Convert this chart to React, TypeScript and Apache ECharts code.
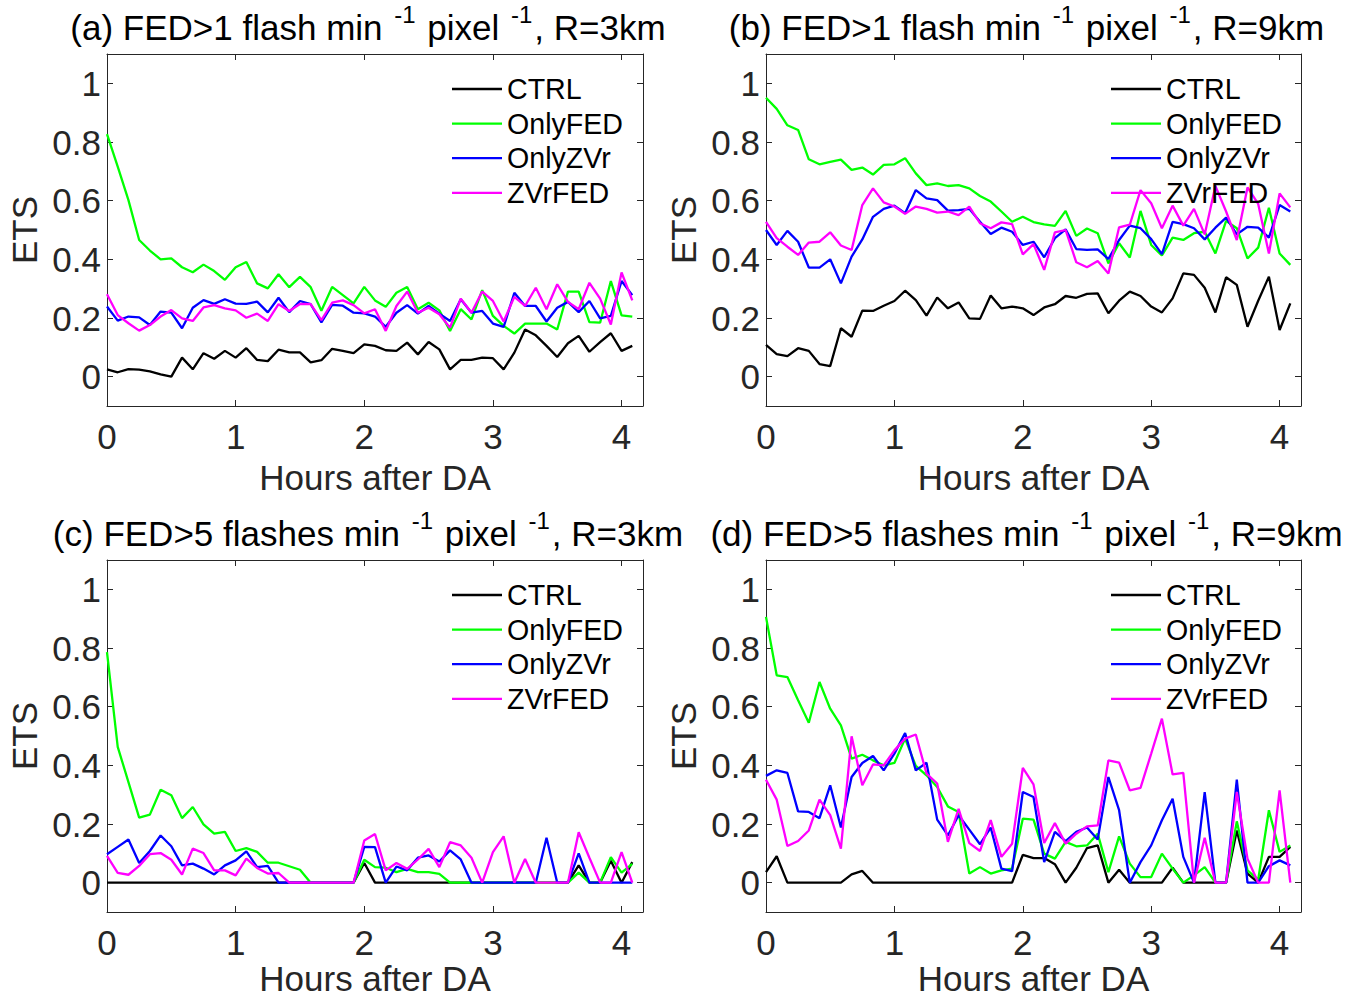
import React, { useEffect, useRef } from 'react';
import * as echarts from 'echarts';

const FONT = "'Liberation Sans', Arial, Helvetica, sans-serif";
const AXIS_COLOR = '#262626';

const MINUTES = [0, 5, 10, 15, 20, 25, 30, 35, 40, 45, 50, 55, 60, 65, 70, 75, 80, 85, 90, 95,
  100, 105, 110, 115, 120, 125, 130, 135, 140, 145, 150, 155, 160, 165, 170, 175, 180, 185, 190, 195,
  200, 205, 210, 215, 220, 225, 230, 235, 240, 245];

const SERIES_NAMES = ['CTRL', 'OnlyFED', 'OnlyZVr', 'ZVrFED'];
const SERIES_COLORS = ['#000000', '#00ff00', '#0000ff', '#ff00ff'];
const X_TICKS = [0, 1, 2, 3, 4];
const Y_TICKS = [0, 0.2, 0.4, 0.6, 0.8, 1];
const X_MAX_MIN = 250;

// Panel (a) FED>1, R=3km
const A_CTRL = [0.025, 0.015, 0.026, 0.024, 0.018, 0.008, 0.0, 0.065, 0.025, 0.08, 0.061, 0.088, 0.065, 0.097, 0.057, 0.053, 0.092, 0.083, 0.083, 0.049, 0.056, 0.095, 0.088, 0.08, 0.11, 0.105, 0.09, 0.088, 0.116, 0.076, 0.118, 0.093, 0.025, 0.057, 0.057, 0.065, 0.063, 0.025, 0.082, 0.161, 0.141, 0.105, 0.067, 0.114, 0.139, 0.085, 0.118, 0.148, 0.088, 0.105];
const A_FED = [0.827, 0.716, 0.602, 0.466, 0.43, 0.40, 0.403, 0.373, 0.356, 0.382, 0.36, 0.33, 0.373, 0.391, 0.318, 0.301, 0.349, 0.305, 0.34, 0.305, 0.225, 0.306, 0.278, 0.25, 0.306, 0.26, 0.238, 0.286, 0.306, 0.23, 0.252, 0.226, 0.156, 0.23, 0.195, 0.295, 0.207, 0.173, 0.147, 0.181, 0.181, 0.181, 0.161, 0.29, 0.29, 0.186, 0.184, 0.326, 0.209, 0.205];
const A_ZVR = [0.239, 0.191, 0.205, 0.202, 0.176, 0.222, 0.218, 0.165, 0.235, 0.261, 0.248, 0.264, 0.249, 0.248, 0.256, 0.219, 0.269, 0.22, 0.258, 0.247, 0.185, 0.245, 0.242, 0.218, 0.216, 0.205, 0.17, 0.218, 0.244, 0.215, 0.241, 0.215, 0.19, 0.264, 0.218, 0.224, 0.181, 0.17, 0.286, 0.241, 0.241, 0.188, 0.235, 0.255, 0.22, 0.258, 0.199, 0.207, 0.326, 0.278];
const A_ZVRFED = [0.281, 0.21, 0.182, 0.157, 0.176, 0.205, 0.227, 0.199, 0.19, 0.236, 0.244, 0.233, 0.226, 0.201, 0.215, 0.19, 0.247, 0.224, 0.248, 0.247, 0.193, 0.252, 0.26, 0.244, 0.216, 0.23, 0.156, 0.241, 0.29, 0.218, 0.235, 0.213, 0.167, 0.266, 0.218, 0.29, 0.258, 0.188, 0.272, 0.241, 0.303, 0.23, 0.315, 0.255, 0.23, 0.32, 0.266, 0.178, 0.355, 0.26];

// Panel (b) FED>1, R=9km
const B_CTRL = [0.108, 0.077, 0.07, 0.097, 0.088, 0.043, 0.036, 0.165, 0.136, 0.225, 0.224, 0.242, 0.258, 0.293, 0.261, 0.208, 0.27, 0.233, 0.253, 0.199, 0.197, 0.277, 0.233, 0.239, 0.233, 0.21, 0.236, 0.247, 0.275, 0.269, 0.282, 0.284, 0.216, 0.259, 0.29, 0.275, 0.239, 0.219, 0.267, 0.352, 0.347, 0.303, 0.219, 0.339, 0.313, 0.17, 0.259, 0.341, 0.159, 0.25];
const B_FED = [0.951, 0.913, 0.857, 0.841, 0.741, 0.724, 0.732, 0.74, 0.705, 0.713, 0.689, 0.722, 0.724, 0.745, 0.693, 0.653, 0.659, 0.65, 0.653, 0.642, 0.616, 0.597, 0.563, 0.528, 0.545, 0.527, 0.519, 0.514, 0.565, 0.48, 0.505, 0.489, 0.386, 0.455, 0.406, 0.565, 0.449, 0.413, 0.474, 0.466, 0.489, 0.494, 0.42, 0.531, 0.506, 0.403, 0.44, 0.576, 0.42, 0.381];
const B_ZVR = [0.5, 0.449, 0.497, 0.46, 0.372, 0.372, 0.4, 0.318, 0.409, 0.468, 0.545, 0.572, 0.583, 0.557, 0.636, 0.608, 0.602, 0.566, 0.568, 0.572, 0.528, 0.486, 0.508, 0.494, 0.449, 0.46, 0.407, 0.472, 0.502, 0.435, 0.432, 0.434, 0.401, 0.466, 0.515, 0.506, 0.469, 0.418, 0.528, 0.52, 0.506, 0.468, 0.508, 0.542, 0.485, 0.511, 0.508, 0.474, 0.585, 0.563];
const B_ZVRFED = [0.528, 0.472, 0.443, 0.415, 0.457, 0.46, 0.492, 0.447, 0.432, 0.585, 0.642, 0.594, 0.58, 0.555, 0.58, 0.572, 0.559, 0.563, 0.551, 0.58, 0.523, 0.506, 0.526, 0.52, 0.417, 0.452, 0.364, 0.492, 0.5, 0.39, 0.373, 0.394, 0.352, 0.509, 0.518, 0.636, 0.591, 0.506, 0.583, 0.515, 0.572, 0.485, 0.65, 0.563, 0.466, 0.645, 0.589, 0.42, 0.625, 0.577];

// Panel (c) FED>5, R=3km
const C_CTRL = [0, 0, 0, 0, 0, 0, 0, 0, 0, 0, 0, 0, 0, 0, 0, 0, 0, 0, 0, 0, 0, 0, 0, 0, 0.067, 0, 0, 0, 0, 0, 0, 0, 0, 0, 0, 0, 0, 0, 0, 0, 0, 0, 0, 0, 0.059, 0, 0, 0.075, 0, 0.07];
const C_FED = [0.786, 0.463, 0.343, 0.222, 0.232, 0.317, 0.298, 0.22, 0.258, 0.199, 0.167, 0.173, 0.108, 0.118, 0.105, 0.068, 0.068, 0.056, 0.044, 0, 0, 0, 0, 0, 0.078, 0.053, 0.051, 0.036, 0.047, 0.036, 0.036, 0.03, 0, 0, 0, 0, 0, 0, 0, 0, 0, 0, 0, 0, 0.034, 0, 0, 0.087, 0.034, 0.064];
const C_ZVR = [0.097, 0.122, 0.147, 0.067, 0.108, 0.161, 0.124, 0.059, 0.065, 0.048, 0.028, 0.059, 0.076, 0.107, 0.053, 0.057, 0, 0, 0, 0, 0, 0, 0, 0, 0.122, 0.121, 0, 0.055, 0.042, 0.085, 0.093, 0.072, 0.11, 0.079, 0, 0, 0, 0, 0, 0, 0, 0.153, 0, 0, 0.1, 0, 0, 0, 0, 0];
const C_ZVRFED = [0.091, 0.033, 0.027, 0.057, 0.097, 0.101, 0.078, 0.028, 0.116, 0.101, 0.042, 0.042, 0.025, 0.082, 0.05, 0.031, 0.033, 0, 0, 0, 0, 0, 0, 0, 0.144, 0.166, 0.042, 0.067, 0.047, 0.079, 0.115, 0.053, 0.138, 0.127, 0.085, 0, 0.104, 0.158, 0, 0.081, 0, 0, 0, 0, 0.172, 0.085, 0, 0, 0.104, 0];

// Panel (d) FED>5, R=9km
const D_CTRL = [0.036, 0.09, 0, 0, 0, 0, 0, 0, 0.028, 0.04, 0, 0, 0, 0, 0, 0, 0, 0, 0, 0, 0, 0, 0, 0, 0.095, 0.084, 0.084, 0.063, 0, 0.051, 0.118, 0.127, 0, 0.044, 0, 0, 0, 0, 0.051, 0, 0, 0, 0, 0, 0.178, 0.031, 0, 0.088, 0.088, 0.122];
const D_FED = [0.906, 0.707, 0.701, 0.622, 0.545, 0.684, 0.593, 0.536, 0.423, 0.436, 0.417, 0.4, 0.408, 0.491, 0.398, 0.366, 0.326, 0.26, 0.241, 0.031, 0.053, 0.031, 0.042, 0.048, 0.218, 0.215, 0.099, 0.082, 0.139, 0.124, 0.127, 0.167, 0.036, 0.158, 0.065, 0.019, 0.019, 0.099, 0.048, 0, 0.025, 0.053, 0, 0, 0.209, 0.042, 0.01, 0.247, 0.105, 0.127];
const D_ZVR = [0.364, 0.383, 0.374, 0.243, 0.241, 0.22, 0.332, 0.188, 0.36, 0.408, 0.432, 0.383, 0.44, 0.51, 0.383, 0.409, 0.215, 0.161, 0.23, 0.181, 0.131, 0.188, 0.048, 0.039, 0.309, 0.292, 0.07, 0.173, 0.142, 0.173, 0.188, 0.147, 0.36, 0.247, 0, 0.07, 0.127, 0.213, 0.286, 0.088, 0, 0.309, 0, 0, 0.351, 0, 0, 0.056, 0.076, 0.059];
const D_ZVRFED = [0.351, 0.283, 0.125, 0.142, 0.178, 0.283, 0.23, 0.116, 0.499, 0.332, 0.403, 0.4, 0.451, 0.491, 0.505, 0.372, 0.338, 0.139, 0.252, 0.135, 0.108, 0.213, 0.088, 0.133, 0.391, 0.335, 0.135, 0.203, 0.133, 0.167, 0.192, 0.195, 0.417, 0.409, 0.315, 0.323, 0.44, 0.559, 0.369, 0.374, 0, 0.153, 0, 0, 0.309, 0.082, 0, 0, 0.315, 0];

const PANELS = [
  { label: '(a) FED>1 flash min ', radius: 'R=3km', data: [A_CTRL, A_FED, A_ZVR, A_ZVRFED] },
  { label: '(b) FED>1 flash min ', radius: 'R=9km', data: [B_CTRL, B_FED, B_ZVR, B_ZVRFED] },
  { label: '(c) FED>5 flashes min ', radius: 'R=3km', data: [C_CTRL, C_FED, C_ZVR, C_ZVRFED] },
  { label: '(d) FED>5 flashes min ', radius: 'R=9km', data: [D_CTRL, D_FED, D_ZVR, D_ZVRFED] },
];

const LAYOUT = [
  { left: 107, top: 54, width: 536, height: 352, nameGap: 56 },
  { left: 766, top: 54, width: 535, height: 352, nameGap: 56 },
  { left: 107, top: 560, width: 536, height: 352, nameGap: 51 },
  { left: 766, top: 560, width: 535, height: 352, nameGap: 51 },
];

function fmtTick(v: number): string {
  return String(Math.round(v * 10) / 10);
}

function buildOption() {
  const grid: any[] = [];
  const xAxis: any[] = [];
  const yAxis: any[] = [];
  const series: any[] = [];
  const legend: any[] = [];
  const graphic: any[] = [];

  const axisLine = { show: true, onZero: false, lineStyle: { color: AXIS_COLOR, width: 1 } };
  const tickX = { show: true, inside: true, length: 6, customValues: X_TICKS, lineStyle: { color: AXIS_COLOR, width: 1 } };
  const tickY = { show: true, inside: true, length: 6, customValues: Y_TICKS, lineStyle: { color: AXIS_COLOR, width: 1 } };

  PANELS.forEach((p, i) => {
    const g = LAYOUT[i];
    grid.push({ left: g.left, top: g.top, width: g.width, height: g.height, containLabel: false, outerBoundsMode: 'none' });
    const xBase = {
      type: 'value', gridIndex: i, min: 0, max: X_MAX_MIN / 60,
      axisLine, axisTick: tickX, splitLine: { show: false },
    };
    xAxis.push({
      ...xBase, position: 'bottom',
      axisLabel: { customValues: X_TICKS, margin: 13, fontSize: 35, color: AXIS_COLOR, fontFamily: FONT, formatter: fmtTick },
      name: 'Hours after DA', nameLocation: 'middle', nameGap: g.nameGap,
      nameTextStyle: { fontSize: 35, lineHeight: 30, color: AXIS_COLOR, fontFamily: FONT },
    });
    xAxis.push({ ...xBase, position: 'top', axisLabel: { show: false } });
    const yBase = {
      type: 'value', gridIndex: i, min: -0.1, max: 1.1,
      axisLine, axisTick: tickY, splitLine: { show: false },
    };
    yAxis.push({
      ...yBase, position: 'left',
      axisLabel: { customValues: Y_TICKS, margin: 6, fontSize: 35, color: AXIS_COLOR, fontFamily: FONT, formatter: fmtTick },
      name: 'ETS', nameLocation: 'middle', nameGap: 65,
      nameTextStyle: { fontSize: 35, color: AXIS_COLOR, fontFamily: FONT },
    });
    yAxis.push({ ...yBase, position: 'right', axisLabel: { show: false } });

    p.data.forEach((vals, k) => {
      series.push({
        type: 'line', name: SERIES_NAMES[k],
        xAxisIndex: i * 2, yAxisIndex: i * 2,
        data: MINUTES.map((m, j) => [m / 60, vals[j]]),
        symbol: 'none', showSymbol: false,
        lineStyle: { color: SERIES_COLORS[k], width: 2.3 },
        itemStyle: { color: SERIES_COLORS[k] },
        emphasis: { disabled: true },
      });
    });

    legend.push({
      data: SERIES_NAMES.map((n, k) => ({ name: n, icon: 'rect', itemStyle: { color: SERIES_COLORS[k] } })),
      orient: 'vertical',
      left: g.left + 345, top: g.top + 20, padding: 0,
      itemWidth: 50, itemHeight: 2.3, itemGap: 4.6,
      selectedMode: false,
      textStyle: { fontSize: 28.6, lineHeight: 30, color: '#000', fontFamily: FONT },
    });

    graphic.push({
      type: 'text',
      x: g.left + g.width / 2 - 7,
      y: g.top - 27,
      style: {
        text: `{n|${p.label}}{s|-1}{n| pixel }{s|-1}{n|, ${p.radius}}`,
        align: 'center', verticalAlign: 'middle',
        rich: {
          n: { fontSize: 35, fontFamily: FONT, fill: '#000' },
          s: { fontSize: 24, fontFamily: FONT, fill: '#000', padding: [0, 2, 26, 2] },
        },
      },
    });
  });

  return { animation: false, backgroundColor: '#ffffff', grid, xAxis, yAxis, series, legend, graphic };
}

export default function App() {
  const ref = useRef<HTMLDivElement>(null);
  useEffect(() => {
    if (!ref.current) return;
    const chart = echarts.init(ref.current, null, { renderer: 'svg' });
    chart.setOption(buildOption() as any);
    return () => chart.dispose();
  }, []);
  return <div ref={ref} style={{ position: 'absolute', left: 0, top: 0, width: 1348, height: 1000 }} />;
}
